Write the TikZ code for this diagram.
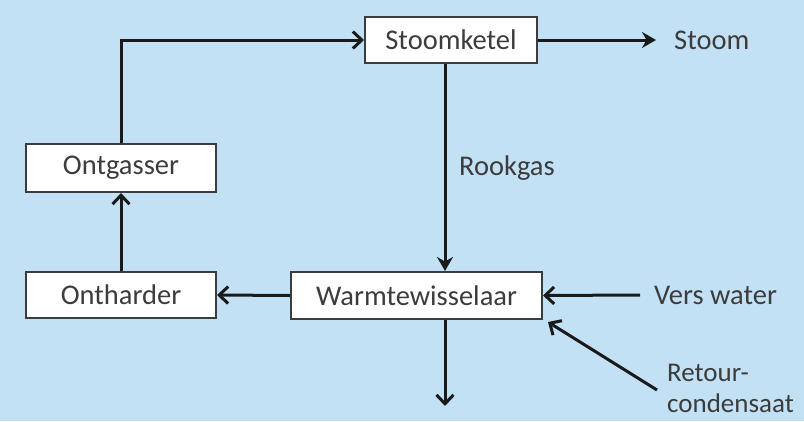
\documentclass[tikz,border=0pt]{standalone}
\usepackage{fontspec}
\setmainfont{Carlito}
\usetikzlibrary{arrows.meta}
\definecolor{bg}{HTML}{C3E1F5}
\definecolor{ink}{HTML}{1A1A1A}
\begin{document}
\begin{tikzpicture}[x=1pt,y=-1pt,
  box/.style={draw=ink!85,line width=2pt,fill=white,inner sep=0pt,font=\fontsize{28.5}{32}\selectfont\color{ink!85}},
  lbl/.style={inner sep=0pt,anchor=west,font=\fontsize{28.5}{32}\selectfont\color{ink!85}},
  flow/.style={draw=ink,line width=3pt,-{Straight Barb[length=9pt,width=17pt,line width=3pt]}},
  flowf/.style={draw=ink,line width=3pt,-{Stealth[length=14pt,width=16pt]}}]
\fill[bg] (0,0) rectangle (804,421);
\useasboundingbox (0,0) rectangle (804,421);
\node[box,minimum width=172pt,minimum height=46pt] (ketel) at (451,40) {Stoomketel};
\node[box,minimum width=190pt,minimum height=48pt] (ontg) at (121,168) {Ontgasser};
\node[box,minimum width=190pt,minimum height=46pt] (onth) at (121,295) {Ontharder};
\node[box,minimum width=251pt,minimum height=47pt] (warm) at (416.5,295.5) {Warmtewisselaar};
\node[lbl] (stoom) at (674,40) {Stoom};
\node[lbl] (rook) at (459,168) {Rookgas};
\node[lbl] (vers) at (654,295) {Vers water};
\node[lbl,anchor=north west,align=left,font=\fontsize{27}{31}\selectfont\color{ink!85}] (ret) at (667,364) {Retour-\\condensaat};
\coordinate (stoomend) at (656,40);
\coordinate (versstart) at (640,295);
\coordinate (retstart) at (657,390);
\coordinate (retend) at (548,322);
\coordinate (outend) at (445,406);
\coordinate (corner) at (121,40);
\draw[flow] (ontg.north) -- (corner) -- (ketel.west);
\draw[flowf] (ketel.east) -- (stoomend);
\draw[flowf] (ketel.south -| 445,0) -- (warm.north -| 445,0);
\draw[flow] (onth.north) -- (ontg.south);
\draw[flow] (warm.west) -- (onth.east);
\draw[flow] (versstart) -- (warm.east);
\draw[flow] (retstart) -- (retend);
\draw[flow] (warm.south -| 445,0) -- (outend);
\end{tikzpicture}
\end{document}
